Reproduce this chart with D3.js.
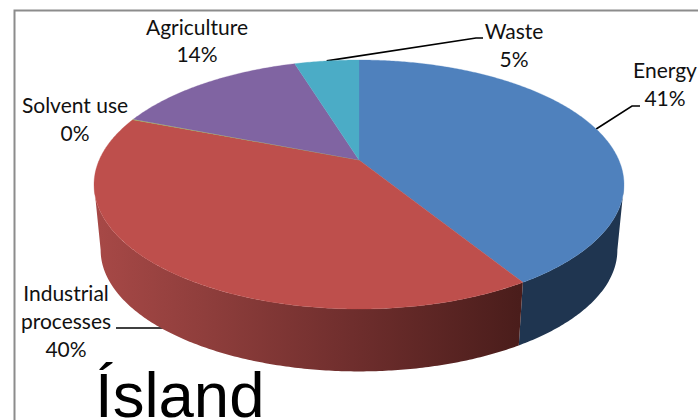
<!DOCTYPE html>
<html><head><meta charset="utf-8">
<script src="https://cdn.jsdelivr.net/npm/d3@7"></script>
<style>html,body{margin:0;padding:0;background:#fff;overflow:hidden}svg{display:block}</style>
</head><body><svg id="c" width="698" height="420"></svg>
<script>
const categories = ["Energy", "Industrial processes", "Solvent use", "Agriculture", "Waste"];
const shares = [41.2, 39.65, 0.1, 14.3, 4.75];
const shareLabels = ["41%", "40%", "0%", "14%", "5%"];
const topColors = ["#4F81BD", "#BE4F4C", "#9BBB59", "#8064A2", "#4BACC6"];
const title = "Ísland";

const W = 698, H = 420;
const svg = d3.select("#c");
const FONT = "Lato, Carlito, sans-serif";

// perspective projection of the pie disc
const cx = 359, vy = 160, k = 0.1968, sx = 259.8, sy = 119.7;
const ecy = 184.5, baseCy = 250, baseScale = 0.975;
const project = a => {
  const u = Math.sin(a), v = Math.cos(a), d = 1 + k * v;
  return [cx + sx * u / d, vy - sy * v / d];
};
const base = a => {
  const [x, y] = project(a);
  return [cx + (x - cx) * baseScale, baseCy + (y - ecy) * baseScale];
};
const turn = 2 * Math.PI;
const sample = (a0, a1) => {
  const n = Math.max(2, Math.ceil(Math.abs(a1 - a0) / 0.01));
  return d3.range(n + 1).map(i => a0 + (a1 - a0) * i / n);
};
const line = d3.line();

const arcs = d3.pie().sort(null).startAngle(0).endAngle(turn)(shares);

// frame
svg.append("path").attr("d", `M${W},10.5H14.5V${H}`).attr("fill", "none")
  .attr("stroke", "#8C8C8C").attr("stroke-width", 2);

// leaders: start on the middle of each slice, run to the label
const mid = i => (arcs[i].startAngle + arcs[i].endAngle) / 2;
const industrialStart = base(mid(1));
const leaders = [
  { from: project(mid(0)), via: [[632, 106], [640, 106]] },
  { from: [industrialStart[0] + 12, 328], via: [[116, 328]] },
  { from: project(mid(4)), via: [[476, 38], [483, 38]] }
];
leaders.forEach(l => {
  svg.append("path").attr("d", line([l.from, ...l.via])).attr("fill", "none")
    .attr("stroke", "#000").attr("stroke-width", 1.6);
});

// side walls
const defs = svg.append("defs");
const grad = defs.append("linearGradient").attr("id", "redWall")
  .attr("gradientUnits", "userSpaceOnUse").attr("x1", 100).attr("x2", 520).attr("y1", 0).attr("y2", 0);
grad.append("stop").attr("offset", 0).attr("stop-color", "#A64846");
grad.append("stop").attr("offset", 0.25).attr("stop-color", "#8F3E3C");
grad.append("stop").attr("offset", 0.6).attr("stop-color", "#6F2E2D");
grad.append("stop").attr("offset", 1).attr("stop-color", "#4A1D1B");

const silhouette = Math.acos(-k);
const wall = (a0, a1, fill) => {
  const angles = sample(a0, a1);
  const pts = angles.map(project).concat(angles.slice().reverse().map(base));
  svg.append("path").attr("d", line(pts) + "Z").attr("fill", fill);
};
wall(silhouette, arcs[0].endAngle, "#1F3550");
wall(arcs[1].startAngle, turn - silhouette, "url(#redWall)");

// top face
arcs.forEach((d, i) => {
  const pts = [[cx, vy]].concat(sample(d.startAngle, d.endAngle).map(project));
  svg.append("path").attr("d", line(pts) + "Z").attr("fill", topColors[i])
    .attr("stroke", topColors[i]).attr("stroke-width", 0.3);
});

// labels
const labelSpots = [
  { i: 0, x: 665, ys: [78, 106] },
  { i: 1, x: 66, ys: [301, 329, 357] },
  { i: 2, x: 75, ys: [113, 141] },
  { i: 3, x: 197, ys: [35, 62] },
  { i: 4, x: 514, ys: [39, 67] }
];
labelSpots.forEach(s => {
  const name = s.ys.length === 3 ? categories[s.i].split(" ") : [categories[s.i]];
  name.concat(shareLabels[s.i]).forEach((txt, j) => {
    svg.append("text").attr("x", s.x).attr("y", s.ys[j]).attr("text-anchor", "middle")
      .attr("font-family", FONT).attr("font-size", 21).attr("fill", "#111").text(txt);
  });
});

// title
svg.append("text").attr("x", 95).attr("y", 417).attr("font-family", "'Liberation Sans', Arial, sans-serif")
  .attr("font-size", 63.5).attr("fill", "#000").text(title);
</script></body></html>
